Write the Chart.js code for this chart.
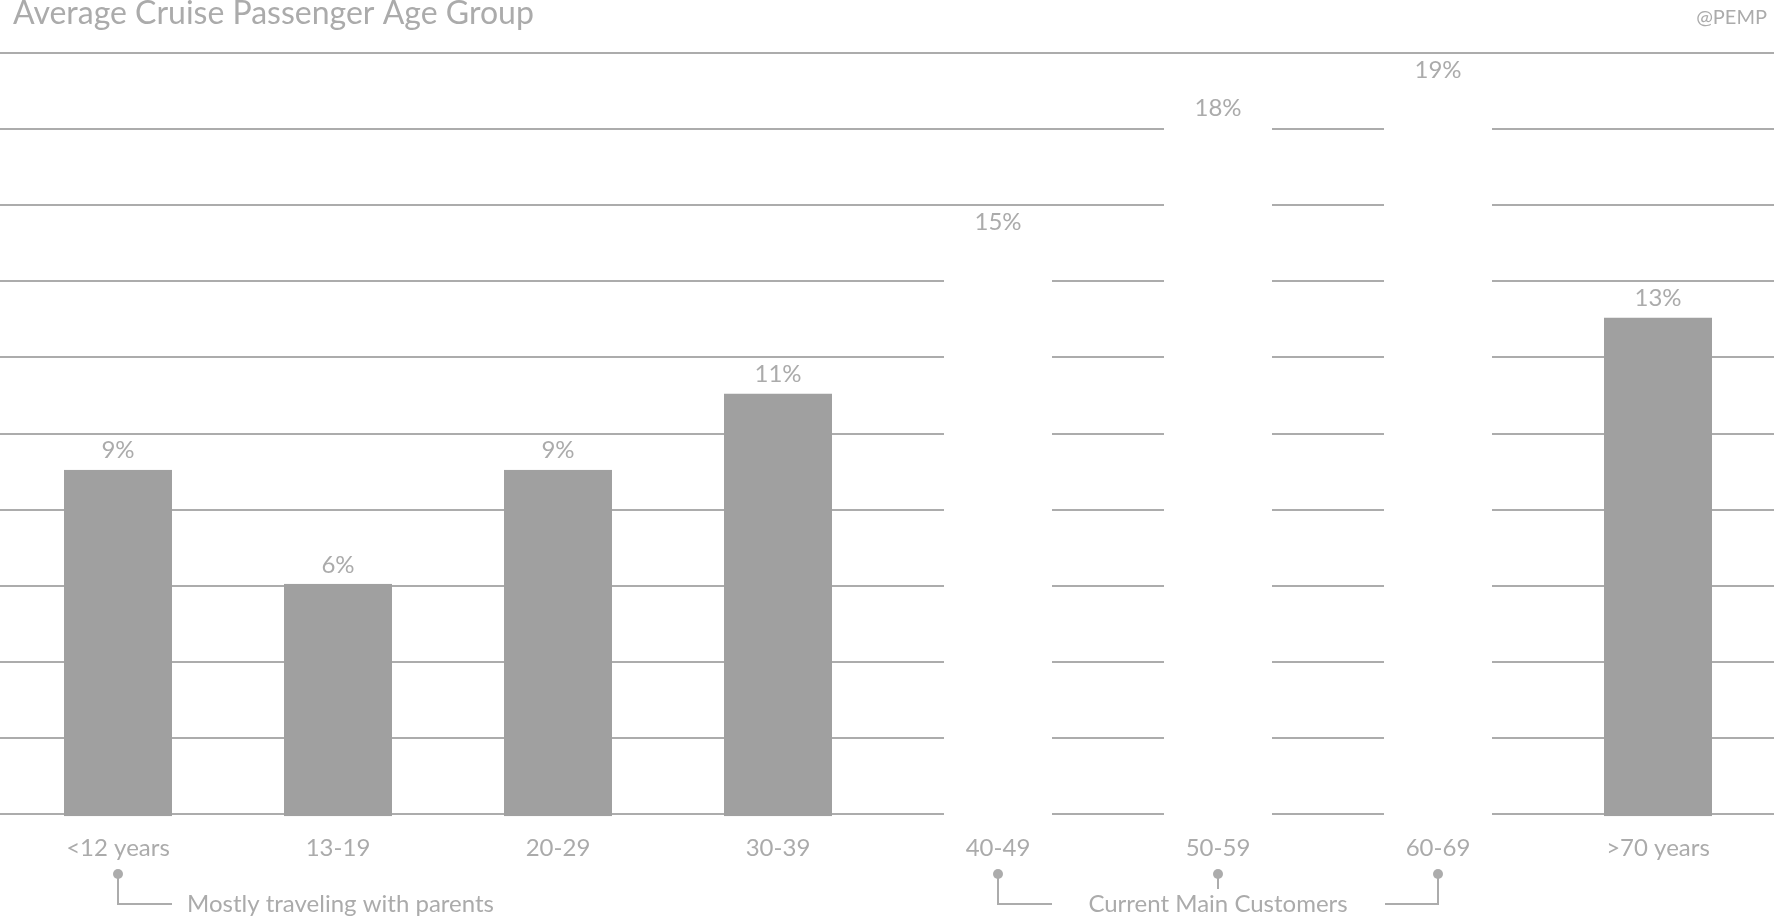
<!DOCTYPE html>
<html>
<head>
<meta charset="utf-8">
<script src="https://cdn.jsdelivr.net/npm/chart.js@4.4.1/dist/chart.umd.min.js"></script>
<style>
  html, body { margin: 0; padding: 0; background: #fff; }
  #wrap { width: 1774px; height: 917px; position: relative; }
</style>
</head>
<body>
<div id="wrap"><canvas id="myChart"></canvas></div>
<script>
const categories = ['<12 years', '13-19', '20-29', '30-39', '40-49', '50-59', '60-69', '>70 years'];
const shares = [9, 6, 9, 11, 15, 18, 19, 13];
// the three "main customer" bars are knocked out in white
const highlighted = ['40-49', '50-59', '60-69'];
const yTicks = [0, 2, 4, 6, 8, 10, 12, 14, 16, 18, 20];
const titleText = 'Average Cruise Passenger Age Group';
const creditText = '@PEMP';
const notes = [
  { text: 'Mostly traveling with parents', from: '<12 years', to: '<12 years' },
  { text: 'Current Main Customers', from: '40-49', to: '60-69', mid: '50-59' }
];

const grey = '#a0a0a0';
const textCol = '#ababab';
const FONT = 'Lato, "Open Sans", sans-serif';
const barColors = categories.map(c => highlighted.includes(c) ? '#ffffff' : grey);

const gridPlugin = {
  id: 'fullGrid',
  beforeDatasetsDraw(chart) {
    const ctx = chart.ctx, y = chart.scales.y;
    ctx.save();
    ctx.strokeStyle = '#acacac';
    ctx.lineWidth = 2;
    yTicks.forEach(v => {
      const py = Math.round(y.getPixelForValue(v));
      ctx.beginPath();
      ctx.moveTo(0, py);
      ctx.lineTo(chart.width, py);
      ctx.stroke();
    });
    ctx.restore();
  }
};

const labelPlugin = {
  id: 'extras',
  afterDatasetsDraw(chart) {
    const ctx = chart.ctx, x = chart.scales.x;
    const meta = chart.getDatasetMeta(0);
    ctx.save();
    ctx.fillStyle = textCol;
    ctx.textAlign = 'center';
    ctx.textBaseline = 'middle';
    ctx.font = '24px ' + FONT;
    meta.data.forEach((bar, i) => {
      ctx.fillText(shares[i] + '%', bar.x, bar.y - 21);
    });

    // title and credit
    ctx.textAlign = 'left';
    ctx.font = '32px ' + FONT;
    ctx.fillText(titleText, 13, 14);
    ctx.textAlign = 'right';
    ctx.font = '20px ' + FONT;
    ctx.fillText(creditText, 1767, 18);

    // annotations under the axis
    const dotY = 874, lineY = 904;
    ctx.strokeStyle = '#acacac';
    ctx.fillStyle = '#acacac';
    ctx.lineWidth = 2;
    const dot = px => { ctx.beginPath(); ctx.arc(px, dotY, 5, 0, Math.PI * 2); ctx.fill(); };

    // first note
    let px = x.getPixelForValue(categories.indexOf(notes[0].from));
    dot(px);
    ctx.beginPath();
    ctx.moveTo(px, dotY); ctx.lineTo(px, lineY); ctx.lineTo(px + 54, lineY);
    ctx.stroke();
    ctx.fillStyle = textCol;
    ctx.textAlign = 'left';
    ctx.font = '24px ' + FONT;
    ctx.fillText(notes[0].text, px + 69, lineY);

    // second note
    const a = x.getPixelForValue(categories.indexOf(notes[1].from));
    const m = x.getPixelForValue(categories.indexOf(notes[1].mid));
    const b = x.getPixelForValue(categories.indexOf(notes[1].to));
    ctx.fillStyle = '#acacac';
    dot(a); dot(m); dot(b);
    ctx.beginPath();
    ctx.moveTo(a, dotY); ctx.lineTo(a, lineY); ctx.lineTo(a + 54, lineY);
    ctx.moveTo(m, dotY); ctx.lineTo(m, dotY + 15);
    ctx.moveTo(b - 53, lineY); ctx.lineTo(b, lineY); ctx.lineTo(b, dotY);
    ctx.stroke();
    ctx.fillStyle = textCol;
    ctx.textAlign = 'center';
    ctx.fillText(notes[1].text, m, lineY);
    ctx.restore();
  }
};

function draw() {
  const ctx = document.getElementById('myChart');
  new Chart(ctx, {
    type: 'bar',
    data: {
      labels: categories,
      datasets: [{
        data: shares,
        backgroundColor: barColors,
        borderColor: barColors,
        borderWidth: 1,
        borderSkipped: false,
        inflateAmount: 2,
        clip: false,
        categoryPercentage: 1,
        barPercentage: 0.473
      }]
    },
    options: {
      responsive: true,
      maintainAspectRatio: false,
      animation: false,
      layout: { padding: { top: 53, left: 8, right: 6, bottom: 34 } },
      plugins: { legend: { display: false }, tooltip: { enabled: false } },
      scales: {
        x: {
          grid: { display: false, drawTicks: false },
          border: { display: false },
          ticks: { color: textCol, font: { family: FONT, size: 24 }, padding: 20, maxRotation: 0 }
        },
        y: {
          display: false,
          min: 0,
          max: 20
        }
      }
    },
    plugins: [gridPlugin, labelPlugin]
  });
}

if (document.fonts && document.fonts.load) {
  Promise.all([document.fonts.load('24px Lato'), document.fonts.load('32px Lato')]).then(draw, draw);
} else {
  draw();
}
</script>
</body>
</html>
